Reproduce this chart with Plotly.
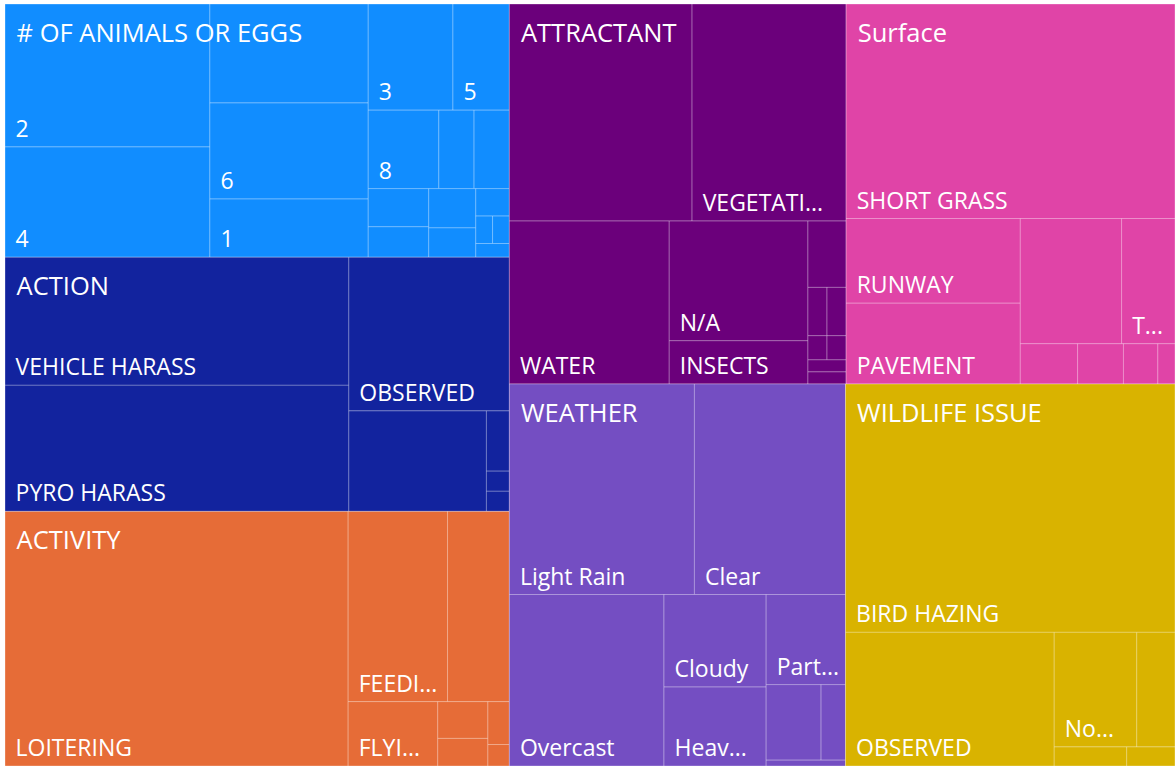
import plotly.graph_objects as go

# ---------------- data ----------------
groups = ["# OF ANIMALS OR EGGS", "ACTION", "ACTIVITY", "ATTRACTANT",
          "Surface", "WEATHER", "WILDLIFE ISSUE"]
group_colors = ["#118DFF", "#12239E", "#E66C37", "#6B007B",
                "#E044A7", "#744EC2", "#D9B300"]

animals_labels = ["2", "4", "(Blank)", "6", "1", "3", "5", "8",
                  "7", "10", "9", "12", "15", "20", "11", "14", "25", "30"]
animals_values = [127, 98, 68, 66, 40, 39, 26, 24, 12, 12, 10, 8, 8, 6, 4, 2, 2, 2]
animals_shown = ["2", "4", "", "6", "1", "3", "5", "8",
                 "", "", "", "", "", "", "", "", "", ""]

action_labels = ["VEHICLE HARASS", "PYRO HARASS", "OBSERVED", "(Blank)",
                 "LETHAL", "AUDIBLE HARASS", "NO ACTION"]
action_values = [191, 188, 107, 60, 6, 2, 2]
action_shown = ["VEHICLE HARASS", "PYRO HARASS", "OBSERVED", "", "", "", ""]

activity_labels = ["LOITERING", "FEEDING", "(Blank)", "FLYING",
                   "NESTING", "PERCHED", "FORAGING", "CROSSING"]
activity_values = [379, 82, 51, 25, 8, 6, 4, 2]
activity_shown = ["LOITERING", "FEEDI...", "", "FLYI...", "", "", "", ""]

attractant_labels = ["(Blank)", "VEGETATION", "WATER", "N/A", "INSECTS",
                     "STANDING WATER", "SEEDS", "RODENTS", "TRASH", "WORMS",
                     "DEBRIS", "CARRION"]
attractant_values = [172, 145, 113, 72, 26, 11, 4, 4, 2, 2, 2, 2]
attractant_shown = ["", "VEGETATI...", "WATER", "N/A", "INSECTS",
                    "", "", "", "", "", "", ""]

surface_labels = ["SHORT GRASS", "RUNWAY", "PAVEMENT", "(Blank)", "TAXIWAY",
                  "TALL GRASS", "APRON", "RAMP", "DITCH"]
surface_values = [306, 64, 61, 55, 29, 10, 8, 6, 3]
surface_shown = ["SHORT GRASS", "RUNWAY", "PAVEMENT", "", "T...", "", "", "", ""]

weather_labels = ["Light Rain", "Clear", "Overcast", "Cloudy", "Heavy Rain",
                  "Partly Cloudy", "Fog", "Snow", "Windy"]
weather_values = [169, 138, 115, 41, 35, 31, 18, 8, 2]
weather_shown = ["Light Rain", "Clear", "Overcast", "Cloudy", "Heav...",
                 "Part...", "", "", ""]

wildlife_labels = ["BIRD HAZING", "OBSERVED", "No Issue", "(Blank)",
                   "DEAD ANIMAL", "NEST"]
wildlife_values = [355, 121, 41, 19, 6, 4]
wildlife_shown = ["BIRD HAZING", "OBSERVED", "No...", "", "", ""]

children = [
    (animals_labels, animals_values, animals_shown),
    (action_labels, action_values, action_shown),
    (activity_labels, activity_values, activity_shown),
    (attractant_labels, attractant_values, attractant_shown),
    (surface_labels, surface_values, surface_shown),
    (weather_labels, weather_values, weather_shown),
    (wildlife_labels, wildlife_values, wildlife_shown),
]

# ---------------- styling ----------------
FONT = "Open Sans"
CHILD_SIZE = 23
GROUP_SIZE = 25.5
CHILD_PREFIX = '\u00a0<span style="font-size:6px">\u00a0</span>'
GROUP_PREFIX = '<span style="font-size:33px">\u00a0</span>'
LINE = "rgba(255,255,255,0.3)"
TILING = dict(packing="squarify", squarifyratio=1.618034, pad=0)

ids, labels, parents, values, texts, colors = [], [], [], [], [], []
group_totals = []
for g, col, (labs, vals, shown) in zip(groups, group_colors, children):
    total = sum(vals)
    group_totals.append(total)
    ids.append(g); labels.append(g); parents.append(""); values.append(total)
    texts.append(""); colors.append(col)
    for lab, val, s in zip(labs, vals, shown):
        ids.append(g + "/" + lab); labels.append(lab); parents.append(g)
        values.append(val); texts.append(CHILD_PREFIX + s if s else "")
        colors.append(col)

fig = go.Figure()
fig.add_trace(go.Treemap(
    ids=ids, labels=labels, parents=parents, values=values,
    branchvalues="total", sort=False,
    text=texts, textinfo="text", textposition="bottom left",
    textfont=dict(family=FONT, size=CHILD_SIZE, color="white"),
    marker=dict(colors=colors, line=dict(color=LINE, width=1),
                pad=dict(t=0, l=0, r=0, b=0), depthfade=False),
    tiling=TILING, pathbar=dict(visible=False),
    hovertemplate="%{label}: %{value}<extra></extra>",
))
fig.add_trace(go.Treemap(
    ids=groups, labels=groups, parents=[""] * len(groups), values=group_totals,
    sort=False,
    text=[GROUP_PREFIX + g for g in groups], textinfo="text",
    textposition="top left",
    textfont=dict(family=FONT, size=GROUP_SIZE, color="white"),
    marker=dict(colors=["rgba(0,0,0,0)"] * len(groups),
                line=dict(color="rgba(0,0,0,0)", width=0),
                pad=dict(t=0, l=0, r=0, b=0), depthfade=False),
    tiling=TILING, pathbar=dict(visible=False), hoverinfo="skip",
))
fig.update_layout(
    width=1175, height=766, autosize=False,
    margin=dict(l=5, r=0, t=4, b=0),
    paper_bgcolor="white", plot_bgcolor="white",
    showlegend=False,
)
fig.write_html("out.html",
               config={"displayModeBar": False},
               post_script="document.body.style.margin='0px';")
